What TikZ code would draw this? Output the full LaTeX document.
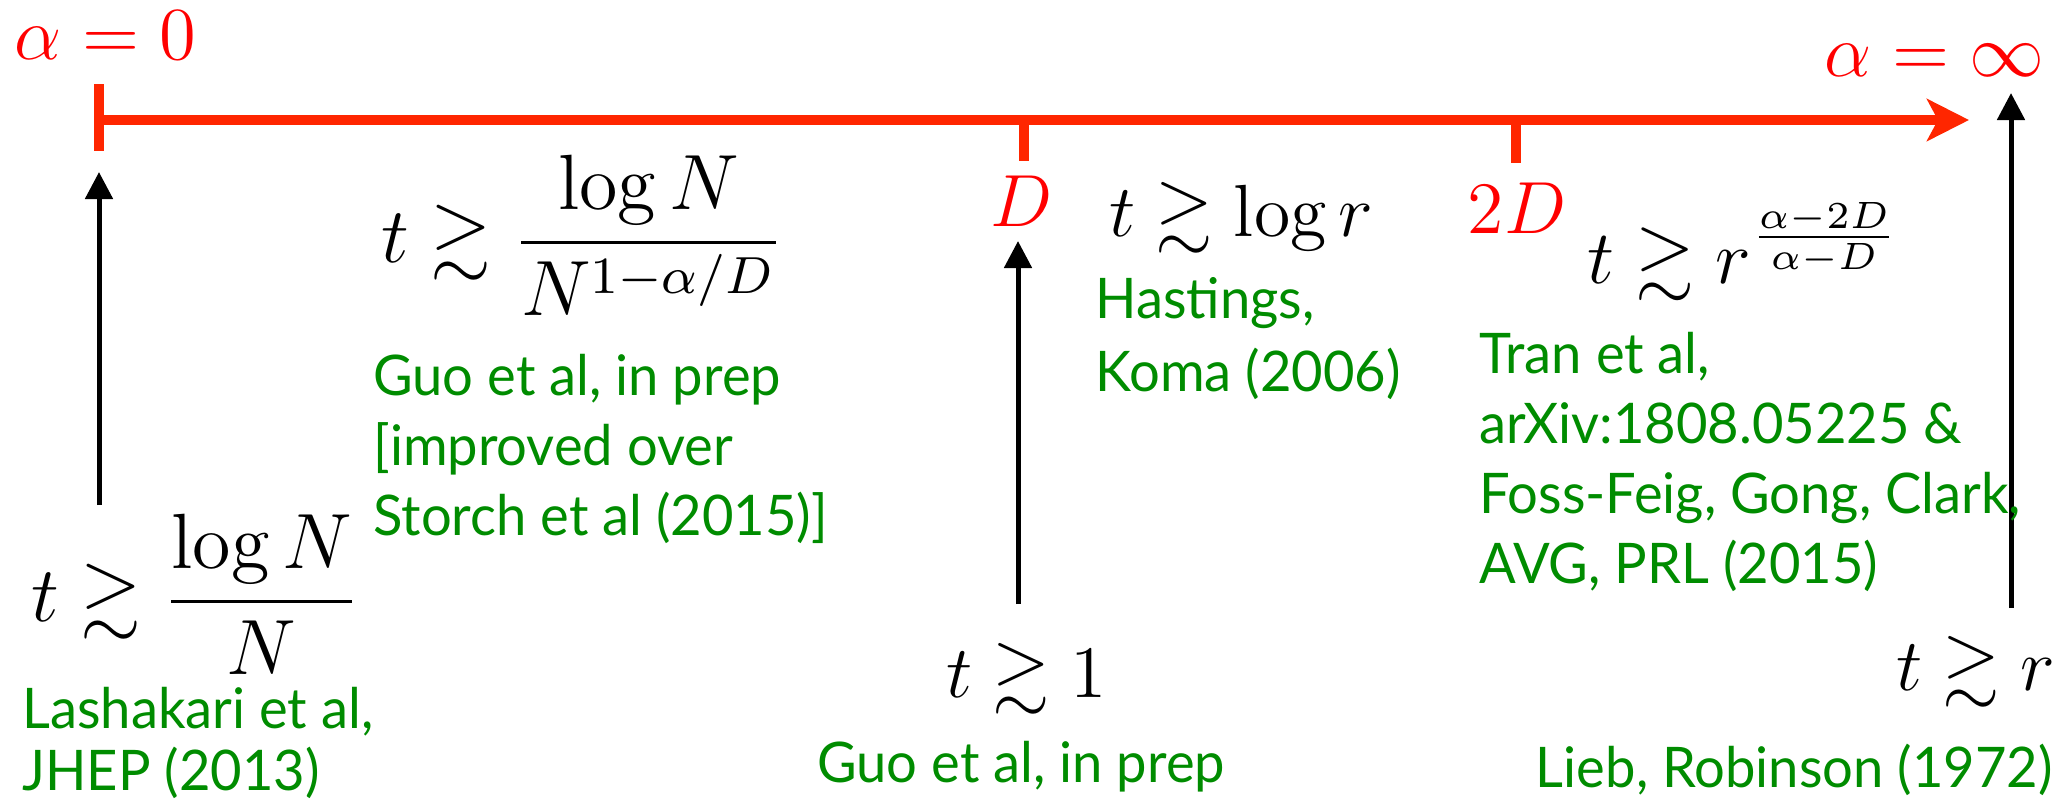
\documentclass[tikz,border=0pt]{standalone}
\usepackage{amsmath}
\usepackage{amssymb}
\usepackage{fontspec}
\newfontfamily\refsfont[FakeStretch=0.97]{Lato}
\usetikzlibrary{arrows.meta}
\definecolor{axisred}{RGB}{255,38,0}
\definecolor{labelred}{RGB}{255,0,0}
\definecolor{refgreen}{RGB}{0,140,0}

\begin{document}
\begin{tikzpicture}[x=0.5pt,y=-0.5pt,
    bound/.style={inner sep=0pt, anchor=base west, scale=3.08, font=\fontsize{12}{14}\selectfont},
    alpha/.style={inner sep=0pt, text=labelred, scale=3.12, font=\fontsize{12}{14}\selectfont},
    ref/.style={inner sep=0pt, anchor=base west, text=refgreen, align=left, font=\refsfont\fontsize{28}{35}\selectfont},
    up/.style={line width=2.5pt, -{Triangle[length=13.5pt,width=13.5pt]}}]
    \useasboundingbox (0,0) rectangle (2063,800);

    % Draw Axis
    \coordinate (axL) at (99,120);
    \coordinate (axR) at (1969,120);
    \draw[axisred, line width=5pt, -{Stealth[length=21pt,width=21pt,inset=5.5pt]}] (axL) -- (axR);
    \draw[axisred, line width=5pt] (99,84) -- (99,151);
    \foreach \x/\y in {1024/161,1516/163}
        \draw[axisred, line width=5pt] (\x,120) -- (\x,\y);

    % Label Axis
    \node[alpha, anchor=base west] (a0) at (13,59) {$\alpha=0$};
    \node[alpha, anchor=base east] (ainf) at (2046,76) {$\alpha=\infty$};
    \node[bound, text=labelred, anchor=base] (lD) at (1022,226) {$D$};
    \node[bound, text=labelred, anchor=base] (l2D) at (1517,233) {$2D$};

    % Draw Arrows up to the axis
    \foreach \n/\x/\ya/\yb in {0/99/505/172, 1/1018/604/241, 2/2011/608/93} {
        \coordinate (s\n) at (\x,\ya);
        \coordinate (e\n) at (\x,\yb);
        \draw[up] (s\n) -- (e\n);
    }

    % Bounds
    \node[bound, scale=1.06] (b1) at (380,262) {$\displaystyle t\gtrsim\frac{\log N}{N^{1-\alpha/D}}$};
    \node[bound, scale=1.06] (b0) at (30,621) {$\displaystyle t\gtrsim\frac{\log N}{N}$};
    \node[bound] (b2) at (945,697) {$t\gtrsim 1$};
    \node[bound] (b3) at (1108,236) {$t\gtrsim\log r$};
    \node[bound, scale=1.03] (b4) at (1586,283) {$\displaystyle t\gtrsim r^{\frac{\alpha-2D}{\alpha-D}}$};
    \node[bound] (b5) at (1895,690) {$t\gtrsim r$};

    % References (base = last line)
    \node[ref, font=\refsfont\fontsize{28}{31}\selectfont] (r0) at (22,790) {Lashakari et al,\\JHEP (2013)};
    \node[ref] (r1) at (373,535) {Guo et al, in prep\\{[}improved over\\Storch et al (2015)]};
    \node[ref] (r2) at (817,782) {Guo et al, in prep};
    \node[ref, font=\refsfont\fontsize{28}{36.5}\selectfont] (r3) at (1095,391) {Hastings,\\Koma (2006)};
    \node[ref] (r4) at (1479,583) {Tran et al,\\arXiv:1808.05225 \&\\Foss-Feig, Gong, Clark,\\AVG, PRL (2015)};
    \node[ref, anchor=base east] (r5) at (2053,787) {Lieb, Robinson (1972)};
\end{tikzpicture}
\end{document}
